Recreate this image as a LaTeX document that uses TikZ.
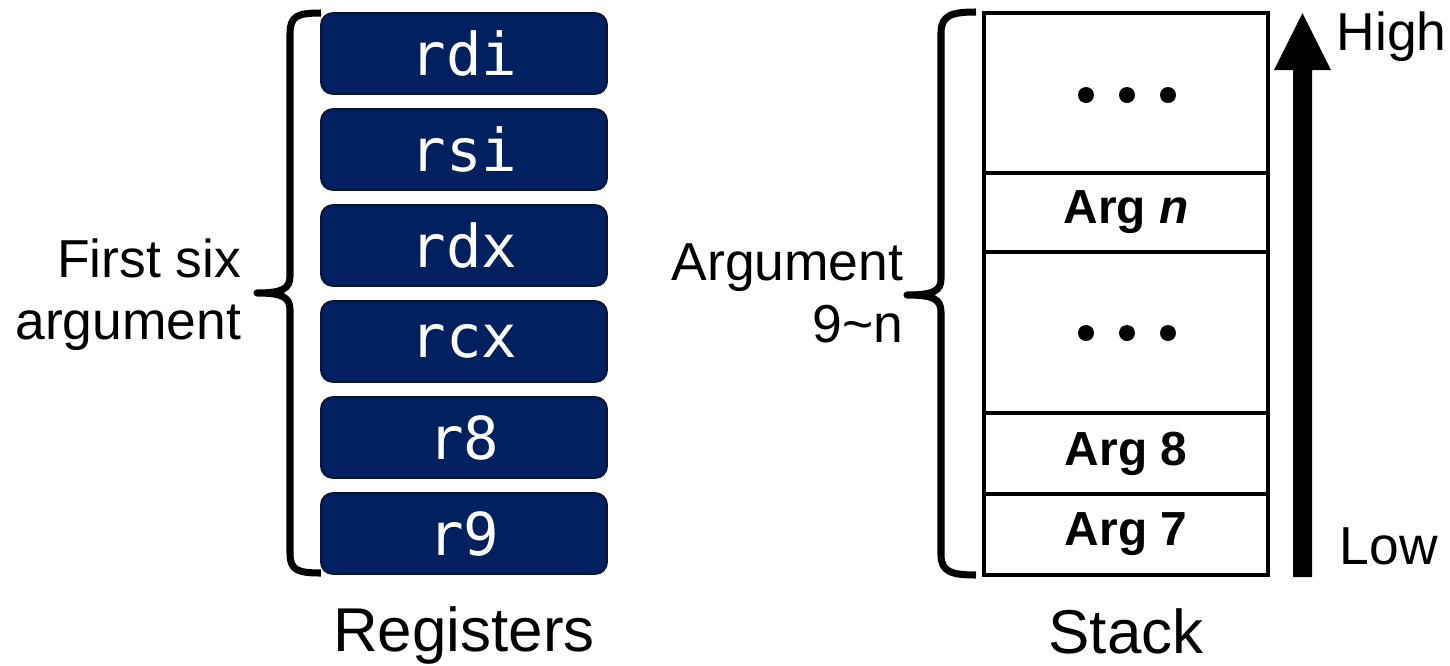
\documentclass[tikz,border=0pt]{standalone}
\usepackage{fontspec}
\setmainfont{Liberation Sans}
\newfontfamily\regfont{DejaVu Sans Mono}
\definecolor{regblue}{HTML}{002060}
\definecolor{regedge}{HTML}{0A1530}
\begin{document}
\begin{tikzpicture}[x=0.01cm,y=-0.01cm,
  reg/.style={draw=regedge,line width=0.5pt,fill=regblue,rounded corners=0.12cm,
    minimum width=2.86cm,minimum height=0.81cm,inner sep=0pt,text=white,
    font=\regfont\fontsize{16.8}{18}\selectfont},
  cell/.style={draw=black,line width=1.3pt,minimum width=2.84cm,inner sep=0pt,
    font=\bfseries\fontsize{13.6}{15}\selectfont},
  lab/.style={inner sep=0pt,font=\fontsize{15.2}{17.5}\selectfont},
  title/.style={inner sep=0pt,font=\fontsize{17.6}{20}\selectfont},
  bracepath/.style={draw=black,line width=2pt,line join=round}]
\useasboundingbox (0,0) rectangle (1450,666);
% registers
\node[reg] (rdi) at (464,53.5) {rdi};
\node[reg] (rsi) at (464,149.5) {rsi};
\node[reg] (rdx) at (464,245.5) {rdx};
\node[reg] (rcx) at (464,341.5) {rcx};
\node[reg] (r8) at (464,437.5) {r8};
\node[reg] (r9) at (464,533.5) {r9};
\node[title,anchor=base] (regt) at (464,651) {Registers};
% left brace
\draw[bracepath] (321,13) .. controls (297,13) and (290,16) .. (290,34) -- (290,276)
  .. controls (290,289) and (282,293) .. (257,293)
  .. controls (282,293) and (290,297) .. (290,310) -- (290,553)
  .. controls (290,570) and (297,573) .. (321,573);
\node[lab,align=right,anchor=east] (first) at (242,294.5) {First six\\argument};
% stack
\node[cell,minimum height=1.60cm] (top) at (1126,93) {};
\node[cell,minimum height=0.79cm] (argn) at (1126,212.5) {Arg \textit{n}};
\node[cell,minimum height=1.61cm] (mid) at (1126,332.5) {};
\node[cell,minimum height=0.81cm] (arg8) at (1126,453.5) {Arg 8};
\node[cell,minimum height=0.81cm] (arg7) at (1126,534.5) {Arg 7};
\foreach \xx in {1086,1127,1168}{
  \fill (\xx,95) circle (8);
  \fill (\xx,333) circle (8);
}
\node[title,anchor=base] (stackt) at (1126,653) {Stack};
% right brace
\draw[bracepath] (976,12) .. controls (952,12) and (941,15) .. (941,33) -- (941,279)
  .. controls (941,291) and (933,295) .. (907,295)
  .. controls (933,295) and (941,299) .. (941,312) -- (941,555)
  .. controls (941,572) and (952,575) .. (976,575);
\node[lab,align=right,anchor=east] (argl) at (904,293.5) {Argument\\9\char`~n};
% arrow
\fill (1293,577) -- (1293,70) -- (1274,70) -- (1302.5,13) -- (1331,70) -- (1312,70) -- (1312,577) -- cycle;
\node[lab,anchor=base west] (high) at (1336,50) {High};
\node[lab,anchor=base west] (low) at (1339,564) {Low};
\end{tikzpicture}
\end{document}
